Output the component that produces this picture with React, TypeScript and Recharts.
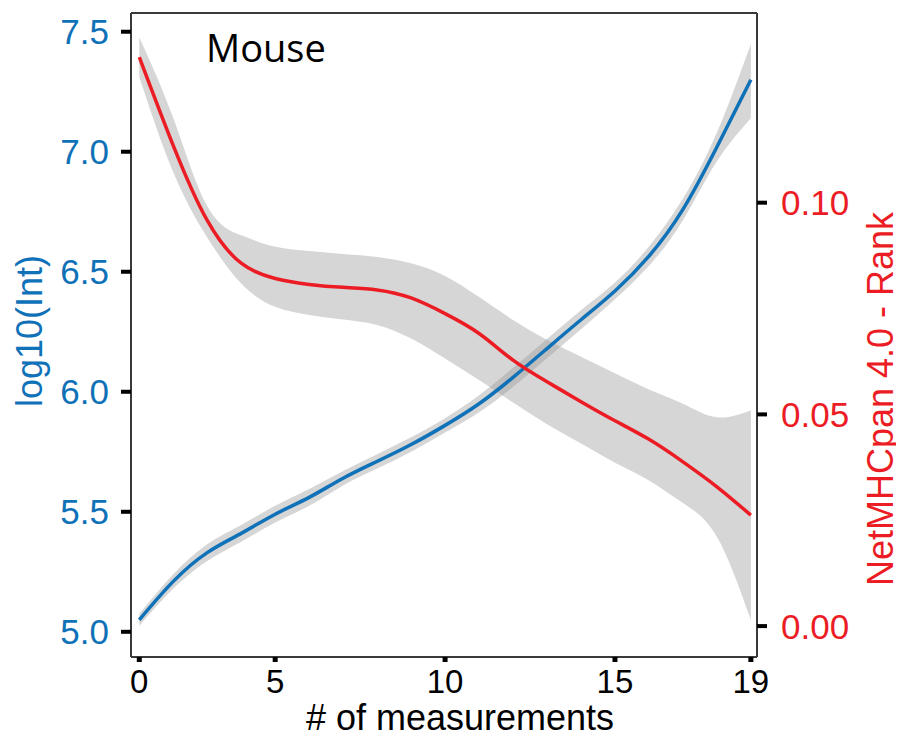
import { ComposedChart, Line, Area, XAxis, YAxis, Label, ReferenceLine } from 'recharts'

// x positions of the smoothed fits (the first tick is labelled "0")
const measurements = [1, 2, 3, 4, 5, 6, 7, 8, 9, 10, 11, 12, 13, 14, 15, 16, 17, 18, 19]

// log10(Int) fit and its confidence band
const intensity = [5.05, 5.21, 5.33, 5.41, 5.49, 5.56, 5.64, 5.71, 5.78, 5.86, 5.95, 6.06, 6.18, 6.3, 6.42, 6.565, 6.76, 7.02, 7.3]
const intensityLow = [5.025, 5.18, 5.295, 5.375, 5.455, 5.525, 5.61, 5.68, 5.75, 5.83, 5.915, 6.02, 6.14, 6.26, 6.385, 6.525, 6.715, 6.96, 7.14]
const intensityHigh = [5.075, 5.24, 5.365, 5.445, 5.525, 5.595, 5.67, 5.74, 5.81, 5.89, 5.985, 6.1, 6.22, 6.34, 6.455, 6.605, 6.805, 7.08, 7.45]

// NetMHCpan 4.0 rank fit and its confidence band
const rank = [0.1344, 0.1135, 0.0958, 0.0857, 0.0821, 0.0807, 0.08, 0.0794, 0.0775, 0.0738, 0.0691, 0.0628, 0.0577, 0.053, 0.0485, 0.0441, 0.0388, 0.0329, 0.0262]
const rankLow = [0.1297, 0.1072, 0.0918, 0.0809, 0.0754, 0.0735, 0.0724, 0.0711, 0.0679, 0.0632, 0.0581, 0.0528, 0.0477, 0.0431, 0.0386, 0.0344, 0.0291, 0.0211, 0.0014]
const rankHigh = [0.1391, 0.12, 0.0992, 0.0923, 0.0896, 0.0886, 0.0879, 0.0872, 0.0857, 0.0827, 0.0777, 0.0723, 0.0676, 0.0636, 0.0597, 0.0559, 0.0525, 0.0493, 0.051]

const xTicks = [1, 5, 10, 15, 19]
const xTickLabels = ['0', '5', '10', '15', '19']
const intensityTicks = [5.0, 5.5, 6.0, 6.5, 7.0, 7.5]
const rankTicks = [0, 0.05, 0.1]

const BLUE = '#0f71b7'
const RED = '#ec1c24'
const FONT = '"Liberation Sans", Arial, sans-serif'

const data = measurements.map((m, i) => ({
  m,
  intensity: intensity[i],
  intensityBand: [intensityLow[i], intensityHigh[i]],
  rank: rank[i],
  rankBand: [rankLow[i], rankHigh[i]],
}))

const axisLine = { stroke: '#3a3a3a', strokeWidth: 2 }
const xDomain = [0.756, 19.18]
const intensityDomain = [4.895, 7.578]
const rankDomain = [-0.0073, 0.1448]

export default function App() {
  return (
    <div style={{ margin: -8 }}>
      <ComposedChart width={904} height={738} data={data} margin={{ top: 13, right: 17, bottom: 21, left: 16 }}>
        <XAxis
          dataKey="m"
          type="number"
          domain={xDomain}
          allowDataOverflow
          ticks={xTicks}
          tickFormatter={(v: number) => xTickLabels[xTicks.indexOf(v)]}
          height={60}
          tickSize={5}
          tickMargin={8}
          tick={{ fill: '#000', fontSize: 33, fontFamily: FONT }}
          tickLine={{ stroke: '#000', strokeWidth: 5 }}
          axisLine={axisLine}
        >
          <Label
            content={() => (
              <text x={460} y={730} textAnchor="middle" fontSize={36} fontFamily={FONT} fill="#000">
                # of measurements
              </text>
            )}
          />
          <Label
            content={() => (
              <text x={206} y={62} fontSize={38} fontFamily='"Open Sans", sans-serif' fill="#000">
                Mouse
              </text>
            )}
          />
        </XAxis>
        <YAxis
          yAxisId="int"
          domain={intensityDomain}
          allowDataOverflow
          ticks={intensityTicks}
          tickFormatter={(v: number) => v.toFixed(1)}
          width={115}
          tickSize={10}
          tickMargin={12}
          tick={{ fill: BLUE, fontSize: 35, fontFamily: FONT }}
          tickLine={{ stroke: '#000', strokeWidth: 4 }}
          axisLine={axisLine}
        >
          <Label
            content={() => (
              <text x={42} y={331} transform="rotate(-90, 42, 331)" textAnchor="middle" fontSize={36} fontFamily={FONT} fill={BLUE}>
                log10(Int)
              </text>
            )}
          />
        </YAxis>
        <YAxis
          yAxisId="rank"
          orientation="right"
          domain={rankDomain}
          allowDataOverflow
          ticks={rankTicks}
          tickFormatter={(v: number) => v.toFixed(2)}
          width={130}
          tickSize={10}
          tickMargin={14}
          tick={{ fill: RED, fontSize: 35, fontFamily: FONT }}
          tickLine={{ stroke: '#000', strokeWidth: 4 }}
          axisLine={axisLine}
        >
          <Label
            content={() => (
              <text x={893} y={399} transform="rotate(-90, 893, 399)" textAnchor="middle" fontSize={36} fontFamily={FONT} fill={RED}>
                NetMHCpan 4.0 - Rank
              </text>
            )}
          />
        </YAxis>

        {/* top edge of the panel frame */}
        <ReferenceLine yAxisId="int" y={intensityDomain[1]} stroke="#3a3a3a" strokeWidth={2} />

        <Area yAxisId="int" type="natural" dataKey="intensityBand" stroke="none" fill="#999999" fillOpacity={0.4} isAnimationActive={false} />
        <Area yAxisId="rank" type="natural" dataKey="rankBand" stroke="none" fill="#999999" fillOpacity={0.4} isAnimationActive={false} />
        <Line yAxisId="int" type="natural" dataKey="intensity" stroke={BLUE} strokeWidth={3.5} dot={false} isAnimationActive={false} />
        <Line yAxisId="rank" type="natural" dataKey="rank" stroke={RED} strokeWidth={3.5} dot={false} isAnimationActive={false} />
      </ComposedChart>
    </div>
  )
}
